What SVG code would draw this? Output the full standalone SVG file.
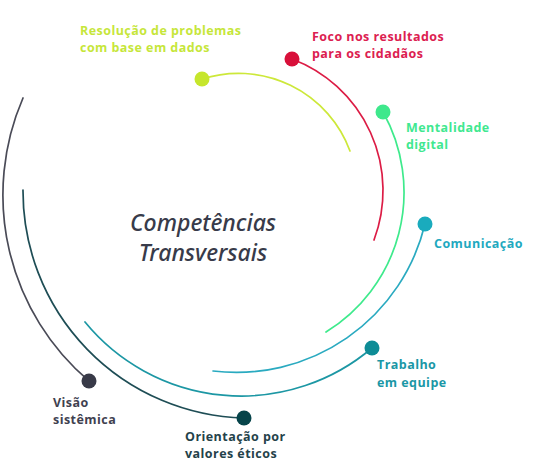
<svg xmlns="http://www.w3.org/2000/svg" width="533" height="472" viewBox="0 0 533 472">
<style>
.arc{fill:none;stroke-width:1.7;stroke-linecap:round}
.lbl{font-family:"Open Sans","Liberation Sans",sans-serif;font-weight:700;font-size:12.5px;letter-spacing:0.45px}
.title{font-family:"Noto Sans","Liberation Sans",sans-serif;font-style:italic;font-weight:500;font-size:23px;fill:#383b4a;text-anchor:middle}
</style>
<rect width="533" height="472" fill="#ffffff"/>
<g id="connectors">
<path class="arc" stroke="#cde83a" d="M202 79 A119 119 0 0 1 350 151"/>
<path class="arc" stroke="#dc1c45" d="M292 59 A140.5 140.5 0 0 1 374 240"/>
<path class="arc" stroke="#3eea8c" d="M383 112 A164 164 0 0 1 326 332"/>
<path class="arc" stroke="#2aaac0" d="M425 224 A194 194 0 0 1 213 371"/>
<path class="arc" stroke="#1c97a4" d="M372 348 A202 202 0 0 1 85 322"/>
<path class="arc" stroke="#1e4d55" d="M244 418 A227 227 0 0 1 23 190"/>
<path class="arc" stroke="#4a4b57" d="M89 381 A244 244 0 0 1 23 98"/>
</g>
<text class="title" x="203" y="231">Competências</text>
<text class="title" x="203" y="261">Transversais</text>
<g id="resolucao">
<circle cx="202" cy="79" r="7.5" fill="#c6e62c"/>
<text class="lbl" fill="#c6e63a" x="80" y="35">Resolução de problemas</text>
<text class="lbl" fill="#c6e63a" x="80" y="52">com base em dados</text>
</g>
<g id="foco">
<circle cx="292" cy="59" r="7.5" fill="#d8103a"/>
<text class="lbl" fill="#dc2050" x="312" y="41">Foco nos resultados</text>
<text class="lbl" fill="#dc2050" x="312" y="58">para os cidadãos</text>
</g>
<g id="mentalidade">
<circle cx="383" cy="112" r="7.5" fill="#3ee88c"/>
<text class="lbl" fill="#40e890" x="406" y="132">Mentalidade</text>
<text class="lbl" fill="#40e890" x="406" y="149">digital</text>
</g>
<g id="comunicacao">
<circle cx="425" cy="224" r="7.5" fill="#1aabbd"/>
<text class="lbl" fill="#1fa9c0" x="434" y="248">Comunicação</text>
</g>
<g id="trabalho">
<circle cx="372" cy="348" r="7.5" fill="#0e8c96"/>
<text class="lbl" fill="#1a97a6" x="377" y="369">Trabalho</text>
<text class="lbl" fill="#1a97a6" x="377" y="387">em equipe</text>
</g>
<g id="orientacao">
<circle cx="244" cy="418" r="7.5" fill="#06444a"/>
<text class="lbl" fill="#24424a" x="185" y="441">Orientação por</text>
<text class="lbl" fill="#24424a" x="185" y="458">valores éticos</text>
</g>
<g id="visao">
<circle cx="89" cy="381" r="7.5" fill="#383a48"/>
<text class="lbl" fill="#3f4150" x="53" y="407">Visão</text>
<text class="lbl" fill="#3f4150" x="53" y="424">sistêmica</text>
</g>
</svg>
